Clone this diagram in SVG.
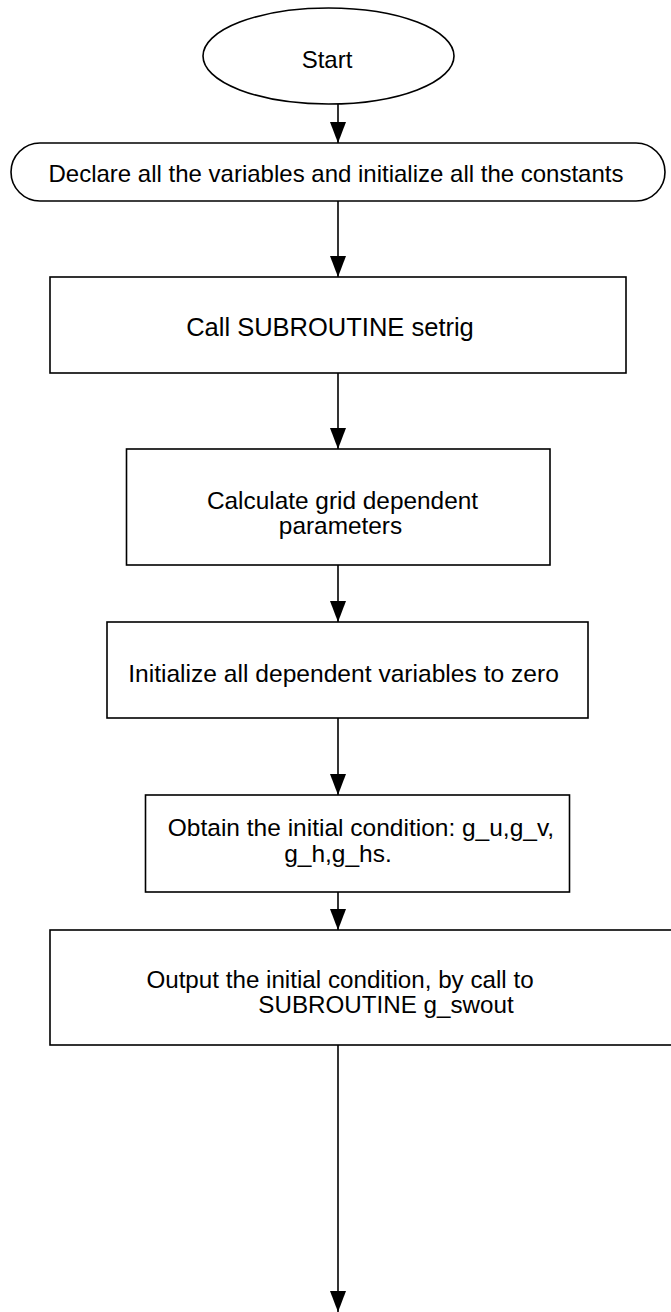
<svg xmlns="http://www.w3.org/2000/svg" width="671" height="1312" viewBox="0 0 671 1312">
<style>
.shape{fill:#fff;stroke:#000;stroke-width:1.6}
.lbl{font-family:"Liberation Sans",Arial,Helvetica,sans-serif;font-size:24px;fill:#000;text-anchor:middle}
.conn{stroke:#000;stroke-width:1.6;fill:none;marker-end:url(#arr)}
</style>
<defs>
<marker id="arr" viewBox="0 -8 21 16" markerWidth="21" markerHeight="16" refX="21" refY="0" orient="auto" markerUnits="userSpaceOnUse">
<path d="M0,-8 L21,0 L0,8 Z" fill="#000"/>
</marker>
</defs>
<rect width="671" height="1312" fill="#fff"/>
<g id="connectors">
<line class="conn" x1="338" y1="104" x2="338" y2="143"/>
<line class="conn" x1="338" y1="201" x2="338" y2="277"/>
<line class="conn" x1="338" y1="373" x2="338" y2="449"/>
<line class="conn" x1="338" y1="565" x2="338" y2="622"/>
<line class="conn" x1="338" y1="718" x2="338" y2="795"/>
<line class="conn" x1="338" y1="892" x2="338" y2="930"/>
<line class="conn" x1="338" y1="1045" x2="338" y2="1312"/>
</g>
<g id="start">
<ellipse class="shape" cx="328.5" cy="56" rx="125.5" ry="48"/>
<text class="lbl" x="327" y="68">Start</text>
</g>
<g id="declare">
<rect class="shape" x="11" y="143" width="654" height="58" rx="29" ry="29"/>
<text class="lbl" x="336" y="182">Declare all the variables and initialize all the constants</text>
</g>
<g id="setrig">
<rect class="shape" x="50" y="277" width="576" height="96"/>
<text class="lbl" x="330" y="336" style="font-size:25.5px">Call SUBROUTINE setrig</text>
</g>
<g id="grid">
<rect class="shape" x="126.5" y="449" width="423.5" height="116"/>
<text class="lbl" style="font-size:24.4px"><tspan x="342.5" y="508.5">Calculate grid dependent</tspan><tspan x="340.5" y="534">parameters</tspan></text>
</g>
<g id="init">
<rect class="shape" x="107" y="622" width="481" height="96"/>
<text class="lbl" x="343.5" y="682" style="font-size:24.6px">Initialize all dependent variables to zero</text>
</g>
<g id="obtain">
<rect class="shape" x="145.5" y="795" width="424" height="97"/>
<text class="lbl" style="font-size:24.5px"><tspan x="361" y="836">Obtain the initial condition: g_u,g_v,</tspan><tspan x="338" y="861.5">g_h,g_hs.</tspan></text>
</g>
<g id="output">
<rect class="shape" x="50" y="930" width="640" height="115"/>
<text class="lbl" style="font-size:24.2px"><tspan x="340" y="988">Output the initial condition, by call to</tspan><tspan x="386" y="1013">SUBROUTINE g_swout</tspan></text>
</g>
</svg>
